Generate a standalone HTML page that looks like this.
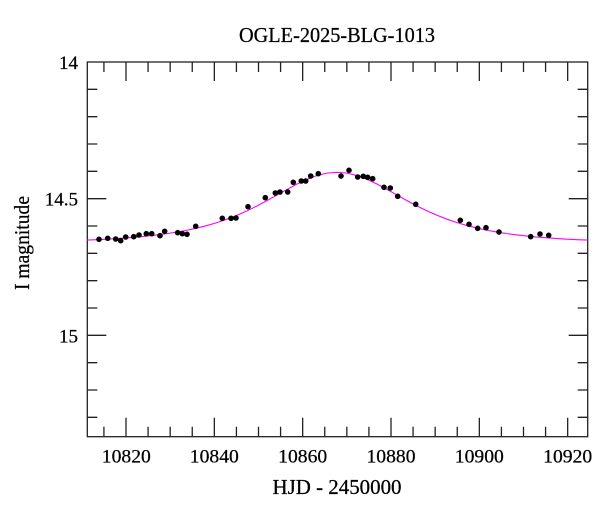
<!DOCTYPE html>
<html><head><meta charset="utf-8"><style>
html,body{margin:0;padding:0;background:#fff;}
svg{display:block;}
text{font-family:"Liberation Serif",serif;fill:#000;stroke:#000;stroke-width:0.25;}
</style></head><body>
<svg width="600" height="512" viewBox="0 0 600 512" xmlns="http://www.w3.org/2000/svg">
<rect width="600" height="512" fill="#fff"/>
<text x="337" y="42" font-size="21" text-anchor="middle" textLength="196" lengthAdjust="spacingAndGlyphs">OGLE-2025-BLG-1013</text>
<text x="337" y="494" font-size="21" text-anchor="middle" textLength="129" lengthAdjust="spacingAndGlyphs">HJD - 2450000</text>
<text transform="translate(29,243) rotate(-90)" font-size="21" text-anchor="middle" textLength="94" lengthAdjust="spacingAndGlyphs">I magnitude</text>
<g font-size="19" text-anchor="end">
<text x="78" y="69">14</text>
<text x="78" y="205.5">14.5</text>
<text x="78" y="342.5">15</text>
</g>
<g font-size="19" text-anchor="middle">
<text x="126.3" y="462.5" textLength="49" lengthAdjust="spacingAndGlyphs">10820</text>
<text x="214.3" y="462.5" textLength="49" lengthAdjust="spacingAndGlyphs">10840</text>
<text x="302.7" y="462.5" textLength="49" lengthAdjust="spacingAndGlyphs">10860</text>
<text x="391" y="462.5" textLength="49" lengthAdjust="spacingAndGlyphs">10880</text>
<text x="479.3" y="462.5" textLength="49" lengthAdjust="spacingAndGlyphs">10900</text>
<text x="567.7" y="462.5" textLength="49" lengthAdjust="spacingAndGlyphs">10920</text>
</g>
<g stroke="#222" stroke-width="1.3" fill="none">
<rect x="87.3" y="62" width="500.4" height="374.7"/>
<path d="M103.92,436.7v-10 M126,436.7v-19 M148.08,436.7v-10 M170.17,436.7v-10 M192.25,436.7v-10 M214.33,436.7v-19 M236.42,436.7v-10 M258.5,436.7v-10 M280.58,436.7v-10 M302.67,436.7v-19 M324.75,436.7v-10 M346.83,436.7v-10 M368.92,436.7v-10 M391,436.7v-19 M413.08,436.7v-10 M435.17,436.7v-10 M457.25,436.7v-10 M479.33,436.7v-19 M501.42,436.7v-10 M523.5,436.7v-10 M545.58,436.7v-10 M567.67,436.7v-19"/>
<path d="M103.92,62v10 M126,62v19 M148.08,62v10 M170.17,62v10 M192.25,62v10 M214.33,62v19 M236.42,62v10 M258.5,62v10 M280.58,62v10 M302.67,62v19 M324.75,62v10 M346.83,62v10 M368.92,62v10 M391,62v19 M413.08,62v10 M435.17,62v10 M457.25,62v10 M479.33,62v19 M501.42,62v10 M523.5,62v10 M545.58,62v10 M567.67,62v19"/>
<path d="M87.3,89.33h10 M87.3,116.67h10 M87.3,144h10 M87.3,171.33h10 M87.3,198.67h19 M87.3,226h10 M87.3,253.33h10 M87.3,280.67h10 M87.3,308h10 M87.3,335.33h19 M87.3,362.67h10 M87.3,390h10 M87.3,417.33h10"/>
<path d="M587.7,89.33h-10 M587.7,116.67h-10 M587.7,144h-10 M587.7,171.33h-10 M587.7,198.67h-19 M587.7,226h-10 M587.7,253.33h-10 M587.7,280.67h-10 M587.7,308h-10 M587.7,335.33h-19 M587.7,362.67h-10 M587.7,390h-10 M587.7,417.33h-10"/>
</g>
<path fill="none" stroke="#ff00ff" stroke-width="1.1" d="M87.3,240.1 L97,239.64 L107,239.14 L117,238.54 L127,237.85 L137,237.04 L147,236.08 L157,234.96 L167,233.63 L177,232.07 L187,230.24 L197,228.08 L207,225.55 L217,222.6 L227,219.19 L237,215.28 L247,210.85 L257,205.95 L267,200.63 L277,195.05 L287,189.42 L297,184.05 L307,179.3 L317,175.54 L327,173.13 L337,172.3 L347,173.13 L357,175.54 L367,179.3 L377,184.05 L387,189.42 L397,195.05 L407,200.63 L417,205.95 L427,210.85 L437,215.28 L447,219.19 L457,222.6 L467,225.55 L477,228.08 L487,230.24 L497,232.07 L507,233.63 L517,234.96 L527,236.08 L537,237.04 L547,237.85 L557,238.54 L567,239.14 L577,239.64 L587.7,240.1"/>
<g fill="#000">
<circle cx="99" cy="239.3" r="2.8"/><circle cx="107.7" cy="238.3" r="2.8"/><circle cx="115.7" cy="239" r="2.8"/><circle cx="120.7" cy="240.7" r="2.8"/><circle cx="125.7" cy="237" r="2.8"/><circle cx="133.7" cy="236.7" r="2.8"/><circle cx="139" cy="235" r="2.8"/><circle cx="146.3" cy="233.7" r="2.8"/><circle cx="151.7" cy="233.7" r="2.8"/><circle cx="160" cy="235.7" r="2.8"/><circle cx="164.7" cy="231.3" r="2.8"/><circle cx="177.7" cy="232.7" r="2.8"/><circle cx="182.3" cy="233.7" r="2.8"/><circle cx="187" cy="234.3" r="2.8"/><circle cx="195.7" cy="226.3" r="2.8"/><circle cx="222.3" cy="218.3" r="2.8"/><circle cx="231" cy="218.3" r="2.8"/><circle cx="236" cy="218" r="2.8"/><circle cx="248" cy="206.7" r="2.8"/><circle cx="265.3" cy="197.7" r="2.8"/><circle cx="275.3" cy="193" r="2.8"/><circle cx="280" cy="192" r="2.8"/><circle cx="287.7" cy="192" r="2.8"/><circle cx="293.3" cy="182.3" r="2.8"/><circle cx="301.3" cy="181" r="2.8"/><circle cx="305.7" cy="181" r="2.8"/><circle cx="310.7" cy="176" r="2.8"/><circle cx="318.3" cy="173.7" r="2.8"/><circle cx="341" cy="176" r="2.8"/><circle cx="349" cy="170.3" r="2.8"/><circle cx="357.7" cy="177" r="2.8"/><circle cx="363.3" cy="176.3" r="2.8"/><circle cx="367.7" cy="177.3" r="2.8"/><circle cx="372.7" cy="178.7" r="2.8"/><circle cx="384" cy="187.3" r="2.8"/><circle cx="390.3" cy="188" r="2.8"/><circle cx="397.7" cy="196.3" r="2.8"/><circle cx="415.7" cy="204.3" r="2.8"/><circle cx="460.3" cy="220.3" r="2.8"/><circle cx="469" cy="224.3" r="2.8"/><circle cx="477.7" cy="228.3" r="2.8"/><circle cx="486" cy="227.7" r="2.8"/><circle cx="499" cy="232" r="2.8"/><circle cx="530.7" cy="236.7" r="2.8"/><circle cx="540" cy="234" r="2.8"/><circle cx="548.7" cy="235.3" r="2.8"/>
</g>
</svg>
</body></html>
